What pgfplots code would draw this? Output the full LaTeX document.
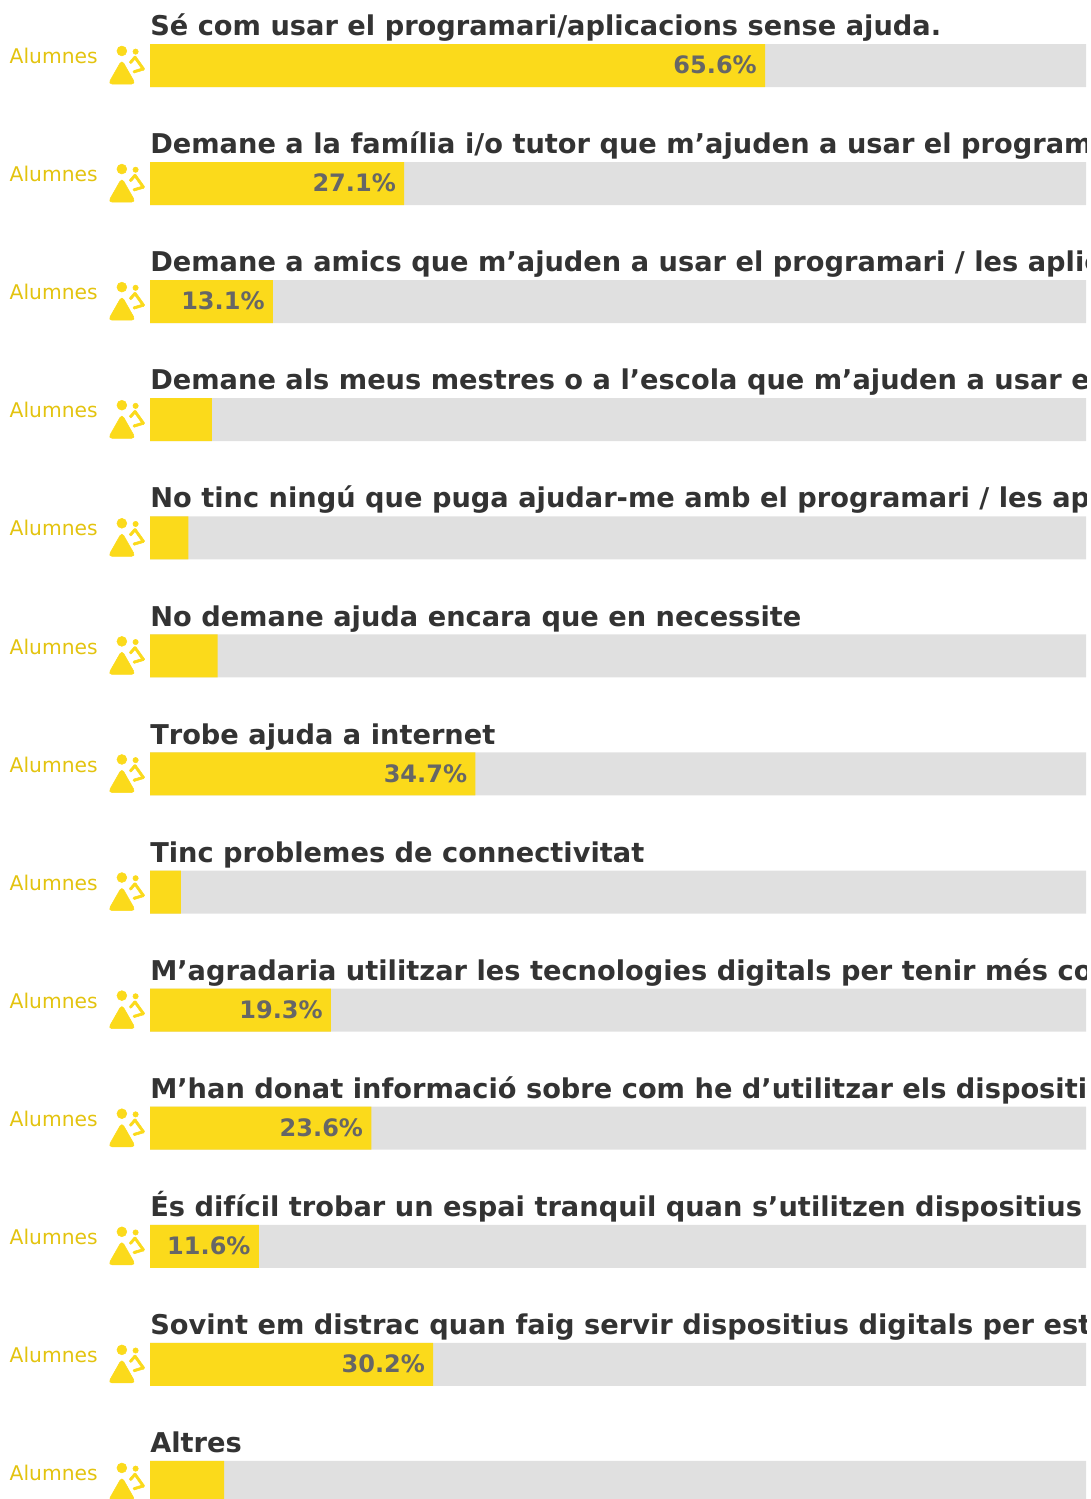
\documentclass[border=0pt]{standalone}
\usepackage{pgfplots}
\pgfplotsset{compat=1.18}
\usepackage{fontspec}
\setmainfont{DejaVu Sans}
\definecolor{baryellow}{HTML}{FBDA1B}
\definecolor{bargray}{HTML}{E0E0E0}
\definecolor{titlecol}{HTML}{333333}
\definecolor{alucol}{HTML}{E3C30F}
\definecolor{valcol}{HTML}{666666}
\newcommand{\titlefont}{\fontsize{20.43pt}{24pt}\selectfont\bfseries\color{titlecol}}
\newcommand{\alufont}{\fontsize{15.2pt}{20pt}\selectfont\color{alucol}}
\pgfdeclareplotmark{alumnes}{%
  \fill[baryellow] (-3.1pt,10.9pt) circle[radius=3.7pt];
  \fill[baryellow] (7.2pt,10.4pt) circle[radius=2pt];
  \fill[baryellow, rounded corners=3pt] (-3.1pt,4.2pt) -- (-13.4pt,-13.9pt) -- (7.2pt,-13.9pt) -- cycle;
  \fill[baryellow] (2.82pt,2.99pt) -- (6.07pt,6.74pt) -- (7.43pt,5.56pt) -- (4.18pt,1.81pt) -- cycle;
  \fill[baryellow] (7.48pt,6.67pt) -- (13.73pt,-2.08pt) -- (12.27pt,-3.12pt) -- (6.02pt,5.63pt) -- cycle;
  \fill[baryellow] (13.26pt,-3.46pt) -- (6.46pt,-5.51pt) -- (5.94pt,-3.79pt) -- (12.74pt,-1.74pt) -- cycle;
  \fill[baryellow] (3.5pt,2.4pt) circle[radius=.9pt];
  \fill[baryellow] (6.75pt,6.15pt) circle[radius=.9pt];
  \fill[baryellow] (13pt,-2.6pt) circle[radius=.9pt];
  \fill[baryellow] (6.2pt,-4.65pt) circle[radius=.9pt];
}
\pgfplotstableread{
row val
0 65.6
1 27.1
2 13.1
3 6.6
4 4.1
5 7.2
6 34.7
7 3.3
8 19.3
9 23.6
10 11.6
11 30.2
12 7.9
}\alldata
\pgfplotstableread{
row val
0 65.6
1 27.1
2 13.1
6 34.7
8 19.3
9 23.6
10 11.6
11 30.2
}\labelled
\pgfplotstableread{
row full
0 100
1 100
2 100
3 100
4 100
5 100
6 100
7 100
8 100
9 100
10 100
11 100
12 100
}\fulldata
\begin{document}
\begin{tikzpicture}
\useasboundingbox (0,0) rectangle (818.25pt,1124.25pt);
\begin{axis}[
  at={(0,0)}, anchor=south west,
  scale only axis, width=814.5pt, height=1124.25pt,
  xmin=-16, xmax=99.84,
  ymin=-0.5547, ymax=12.140, y dir=reverse,
  axis lines=none, ticks=none,
  xbar, bar shift=0pt, bar width=32.25pt,
  /pgf/number format/assume math mode=true,
]
\addplot[xbar, draw=none, fill=bargray] table[x=full,y=row] {\fulldata};
\addplot[xbar, draw=none, fill=baryellow] table[x=val,y=row] {\alldata};
\addplot[xbar, draw=none, fill=none,
  point meta=x,
  nodes near coords={\pgfmathprintnumber[fixed,precision=1,fixed zerofill,assume math mode=true]{\pgfplotspointmeta}\%},
  nodes near coords align={anchor=base east},
  every node near coord/.append style={font=\fontsize{18pt}{22pt}\selectfont\bfseries, text=valcol, inner sep=0pt, xshift=-6pt, yshift=-6.2pt},
] table[x=val,y=row] {\labelled};
\addplot[only marks, mark=alumnes, mark size=1pt] coordinates {
  (-2.56,0) (-2.56,1) (-2.56,2) (-2.56,3) (-2.56,4) (-2.56,5) (-2.56,6)
  (-2.56,7) (-2.56,8) (-2.56,9) (-2.56,10) (-2.56,11) (-2.56,12)};
\foreach \r in {0,...,12} {
  \edef\tmp{\noexpand\node[anchor=base west, inner sep=0pt, font=\noexpand\alufont, xshift=7.1pt, yshift=1.4pt] at (axis cs:-16,\r) {Alumnes};}
  \tmp
}
\newcommand{\ttl}[2]{\node[anchor=base west, inner sep=0pt, font=\titlefont, yshift=22.4pt] at (axis cs:0,#1) {#2};}
\ttl{0}{Sé com usar el programari/aplicacions sense ajuda.}
\ttl{1}{Demane a la família i/o tutor que m’ajuden a usar el programari / les aplicacions}
\ttl{2}{Demane a amics que m’ajuden a usar el programari / les aplicacions}
\ttl{3}{Demane als meus mestres o a l’escola que m’ajuden a usar el programari / les aplicacions}
\ttl{4}{No tinc ningú que puga ajudar-me amb el programari / les aplicacions}
\ttl{5}{No demane ajuda encara que en necessite}
\ttl{6}{T\kern0pt robe ajuda a internet}
\ttl{7}{Tinc problemes de connectivitat}
\ttl{8}{M’agradaria utilitzar les tecnologies digitals per tenir més contacte amb els meus mestres}
\ttl{9}{M’han donat informació sobre com he d’utilitzar els dispositius digitals de manera segura}
\ttl{10}{És difícil trobar un espai tranquil quan s’utilitzen dispositius digitals a casa}
\ttl{11}{Sovint em distrac quan faig servir dispositius digitals per estudiar}
\ttl{12}{Altres}
\end{axis}
\end{tikzpicture}
\end{document}
